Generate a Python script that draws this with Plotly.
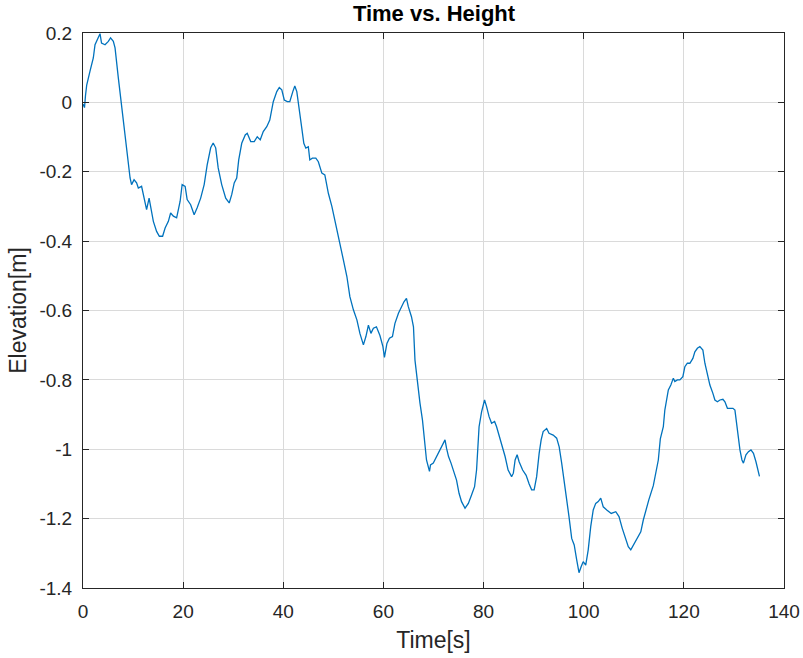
import plotly.graph_objects as go

time_s = [0.0, 0.3, 0.5, 0.74, 1.4, 2.06, 2.4, 3.06, 3.4, 3.7, 4.4, 5.06, 5.5, 6.06, 6.4, 7.06, 7.7, 8.4, 8.9,
          9.4, 9.7, 10.2, 10.7, 11.05, 11.7, 12.4, 12.7, 13.2, 13.6, 14.05, 14.7, 15.25, 15.9, 16.4, 17.05, 17.5,
          18.05, 18.7, 19.4, 19.8, 20.4, 20.8, 21.5, 22.2, 22.8, 23.5, 24.2, 24.8, 25.5, 26.0, 26.5, 27.0, 27.7,
          28.5, 29.2, 29.7, 30.2, 30.7, 31.1, 31.7, 32.4, 32.8, 33.5, 34.2, 34.8, 35.4, 36.0, 36.7, 37.3, 38.0,
          38.7, 39.2, 39.7, 40.2, 40.8, 41.3, 41.9, 42.3, 42.7, 43.2, 43.7, 44.1, 44.5, 45.0, 45.3, 45.8, 46.5,
          47.0, 47.7, 48.3, 49.0, 49.7, 50.0, 50.7, 51.3, 52.0, 52.7, 53.3, 54.0, 54.7, 55.3, 56.0, 56.5, 57.0,
          57.5, 58.0, 58.6, 59.3, 59.9, 60.2, 60.7, 61.2, 61.8, 62.3, 63.0, 63.6, 64.1, 64.6, 64.97, 65.6, 66.0,
          66.3, 66.8, 67.3, 67.8, 68.2, 68.6, 69.2, 69.4, 69.96, 70.6, 71.3, 72.0, 72.3, 72.6, 73.0, 73.5, 74.1,
          74.6, 75.1, 75.6, 76.3, 76.96, 77.6, 78.2, 78.6, 79.1, 79.6, 80.2, 80.6, 81.1, 81.6, 82.2, 82.6, 83.1,
          83.6, 84.3, 84.9, 85.6, 85.95, 86.3, 86.7, 87.1, 87.8, 88.5, 89.1, 89.6, 90.1, 90.6, 91.1, 91.5, 91.9,
          92.6, 93.07, 93.9, 94.6, 95.1, 95.6, 96.1, 96.6, 97.06, 97.6, 98.1, 98.6, 99.06, 99.5, 99.9, 100.4,
          100.9, 101.4, 101.9, 102.4, 102.9, 103.4, 103.9, 104.6, 105.5, 106.4, 107.05, 107.7, 108.4, 108.9,
          109.4, 110.1, 110.8, 111.4, 111.9, 112.4, 113.0, 113.9, 114.4, 114.9, 115.3, 115.6, 115.9, 116.2,
          116.6, 116.9, 117.4, 117.9, 118.2, 118.7, 119.2, 119.8, 120.2, 120.7, 121.2, 121.8, 122.2, 122.7,
          123.2, 123.8, 124.2, 124.7, 125.2, 125.8, 126.2, 126.7, 127.2, 127.8, 128.2, 128.7, 129.2, 129.8,
          130.2, 130.5, 130.9, 131.2, 131.6, 131.9, 132.4, 132.9, 133.4, 133.9, 134.4, 134.9, 135.1]

elevation_m = [-0.005, -0.015, 0.02, 0.05, 0.09, 0.128, 0.166, 0.186, 0.198, 0.171, 0.166, 0.176, 0.186, 0.176,
               0.157, 0.07, -0.007, -0.093, -0.169, -0.218, -0.237, -0.223, -0.232, -0.247, -0.242, -0.285,
               -0.309, -0.276, -0.313, -0.343, -0.372, -0.386, -0.386, -0.362, -0.343, -0.319, -0.328, -0.333,
               -0.285, -0.237, -0.242, -0.28, -0.295, -0.324, -0.304, -0.276, -0.237, -0.18, -0.131, -0.117,
               -0.131, -0.189, -0.237, -0.276, -0.29, -0.266, -0.232, -0.218, -0.166, -0.118, -0.094, -0.089,
               -0.113, -0.113, -0.099, -0.108, -0.084, -0.07, -0.051, 0.002, 0.031, 0.043, 0.036, 0.007, 0.002,
               0.002, 0.031, 0.047, 0.031, -0.031, -0.075, -0.118, -0.132, -0.128, -0.166, -0.161, -0.161,
               -0.171, -0.204, -0.209, -0.262, -0.3, -0.32, -0.358, -0.406, -0.454, -0.502, -0.56, -0.598,
               -0.627, -0.666, -0.699, -0.675, -0.642, -0.666, -0.651, -0.647, -0.672, -0.704, -0.735, -0.695,
               -0.68, -0.675, -0.637, -0.608, -0.589, -0.575, -0.565, -0.589, -0.618, -0.647, -0.743, -0.81,
               -0.867, -0.916, -0.973, -1.031, -1.064, -1.045, -1.04, -1.021, -1.002, -0.983, -0.973, -0.997,
               -1.021, -1.04, -1.064, -1.089, -1.127, -1.151, -1.17, -1.156, -1.132, -1.108, -1.06, -0.935,
               -0.892, -0.858, -0.877, -0.906, -0.925, -0.92, -0.935, -0.959, -0.983, -1.021, -1.06, -1.079,
               -1.069, -1.031, -1.016, -1.036, -1.06, -1.075, -1.1, -1.117, -1.117, -1.079, -1.012, -0.973,
               -0.949, -0.94, -0.954, -0.959, -0.968, -0.993, -1.04, -1.089, -1.146, -1.194, -1.257, -1.276,
               -1.319, -1.356, -1.338, -1.324, -1.334, -1.29, -1.223, -1.175, -1.156, -1.151, -1.141, -1.166,
               -1.175, -1.185, -1.18, -1.194, -1.228, -1.261, -1.281, -1.29, -1.271, -1.252, -1.238, -1.204,
               -1.175, -1.146, -1.105, -1.07, -1.031, -0.97, -0.954, -0.935, -0.887, -0.858, -0.829, -0.815,
               -0.795, -0.805, -0.8, -0.8, -0.791, -0.762, -0.752, -0.752, -0.738, -0.719, -0.709, -0.704,
               -0.714, -0.752, -0.781, -0.815, -0.839, -0.858, -0.863, -0.858, -0.856, -0.863, -0.882, -0.882,
               -0.882, -0.887, -0.925, -0.964, -1.002, -1.031, -1.04, -1.016, -1.007, -1.002, -1.012, -1.036,
               -1.069, -1.078]

x_ticks = [0, 20, 40, 60, 80, 100, 120, 140]
x_tick_labels = ["0", "20", "40", "60", "80", "100", "120", "140"]
y_ticks = [0.2, 0, -0.2, -0.4, -0.6, -0.8, -1.0, -1.2, -1.4]
y_tick_labels = ["0.2", "0", "-0.2", "-0.4", "-0.6", "-0.8", "-1", "-1.2", "-1.4"]

FONT = "Liberation Sans, Arial, Helvetica, sans-serif"
AX = "#262626"

fig = go.Figure()
fig.add_trace(go.Scatter(x=time_s, y=elevation_m, mode="lines",
                         line=dict(color="#0072BD", width=1.3), showlegend=False))

axis_common = dict(
    showline=True, linecolor=AX, linewidth=1, mirror="ticks",
    ticks="inside", ticklen=6, tickcolor=AX, tickwidth=1,
    showgrid=True, gridcolor="#dadada", gridwidth=1,
    zeroline=False, automargin=False,
    tickfont=dict(family=FONT, size=19, color=AX),
)

fig.update_layout(
    width=803, height=658,
    margin=dict(l=83, r=19, t=33, b=70),
    paper_bgcolor="white", plot_bgcolor="white",
    title=dict(text="<b>Time vs. Height</b>", x=0.5405, xanchor="center",
               y=1 - 13 / 658, yanchor="middle", yref="container",
               font=dict(family=FONT, size=22, color="#000000")),
    xaxis=dict(range=[0, 140], tickvals=x_ticks, ticktext=x_tick_labels,
               title=dict(text="Time[s]", font=dict(family=FONT, size=23, color=AX), standoff=11),
               ticklabelstandoff=6, **axis_common),
    yaxis=dict(range=[-1.4, 0.2], tickvals=y_ticks, ticktext=y_tick_labels,
               title=dict(text="Elevation[m]", font=dict(family=FONT, size=23, color=AX), standoff=6),
               ticklabelstandoff=6, **axis_common),
)

fig.write_html("out.html")
